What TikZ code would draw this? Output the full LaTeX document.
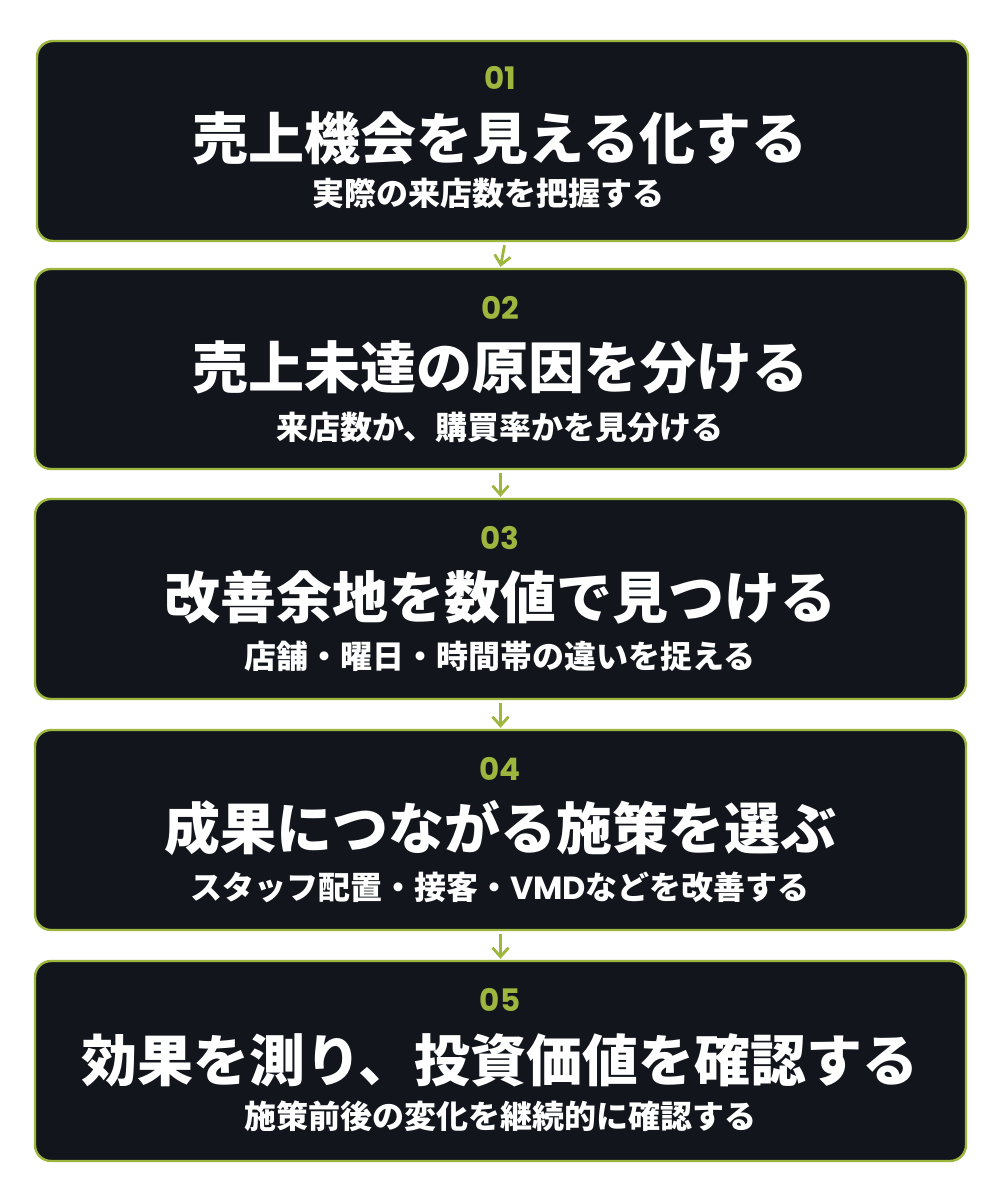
\documentclass[tikz,border=0pt]{standalone}
\usepackage{fontspec}
\setmainfont{Poppins}
\newfontfamily\jpfont{Noto Sans CJK JP}
\usetikzlibrary{arrows.meta}
\definecolor{olive}{RGB}{157,183,62}
\definecolor{panel}{RGB}{18,22,28}
\tikzset{
  stepbox/.style={draw=olive, line width=1.2pt, fill=panel, rounded corners=8pt,
    minimum width=465.5pt, minimum height=100pt, inner sep=0pt},
  stepnum/.style={text=olive, font=\fontsize{15.5}{15.5}\selectfont\bfseries, inner sep=0pt},
  steptitle/.style={text=white, font=\jpfont\fontsize{28}{28}\selectfont\bfseries, inner sep=0pt},
  stepsub/.style={text=white, font=\jpfont\fontsize{16}{16}\selectfont\bfseries, inner sep=0pt},
  flow/.style={olive, line width=1.4pt, -{Straight Barb[length=4.5pt,width=8pt]}}
}
\begin{document}
\begin{tikzpicture}[x=0.5pt,y=-0.5pt]
    \useasboundingbox[fill=white] (0,0) rectangle (1000,1200);
    % boxes
    \node[stepbox] (s1) at (502.5,141) {};
    \node[stepbox] (s2) at (500.5,369) {};
    \node[stepbox] (s3) at (500.5,599) {};
    \node[stepbox] (s4) at (500.5,830) {};
    \node[stepbox] (s5) at (500.5,1061) {};
    % texts
    \node[stepnum] (n1) at (500,78) {01};
    \node[steptitle] (t1) at (500,138) {売上機会を見える化する};
    \node[stepsub] (u1) at (488,193) {実際の来店数を把握する};
    \node[stepnum] (n2) at (500,308) {02};
    \node[steptitle] (t2) at (500,367) {売上未達の原因を分ける};
    \node[stepsub] (u2) at (500,427) {来店数か、購買率かを見分ける};
    \node[stepnum] (n3) at (500,538) {03};
    \node[steptitle] (t3) at (500,597) {改善余地を数値で見つける};
    \node[stepsub] (u3) at (500,656) {店舗・曜日・時間帯の違いを捉える};
    \node[stepnum] (n4) at (500,769) {04};
    \node[steptitle] (t4) at (500,828) {成果につながる施策を選ぶ};
    \node[stepsub] (u4) at (500,887) {スタッフ配置・接客・{\fontspec{Poppins}VMD}などを改善する};
    \node[stepnum] (n5) at (500,1000) {05};
    \node[steptitle] (t5) at (500,1060) {効果を測り、投資価値を確認する};
    \node[stepsub] (u5) at (500,1116) {施策前後の変化を継続的に確認する};
    % arrows
    \draw[flow] ([xshift=1pt,yshift=-1.5pt]s1.south) -- ([yshift=0.5pt]s2.north);
    \draw[flow] ([yshift=-1.5pt]s2.south) -- ([yshift=0.5pt]s3.north);
    \draw[flow] ([yshift=-1.5pt]s3.south) -- ([yshift=0.5pt]s4.north);
    \draw[flow] ([yshift=-1.5pt]s4.south) -- ([yshift=0.5pt]s5.north);
\end{tikzpicture}
\end{document}
